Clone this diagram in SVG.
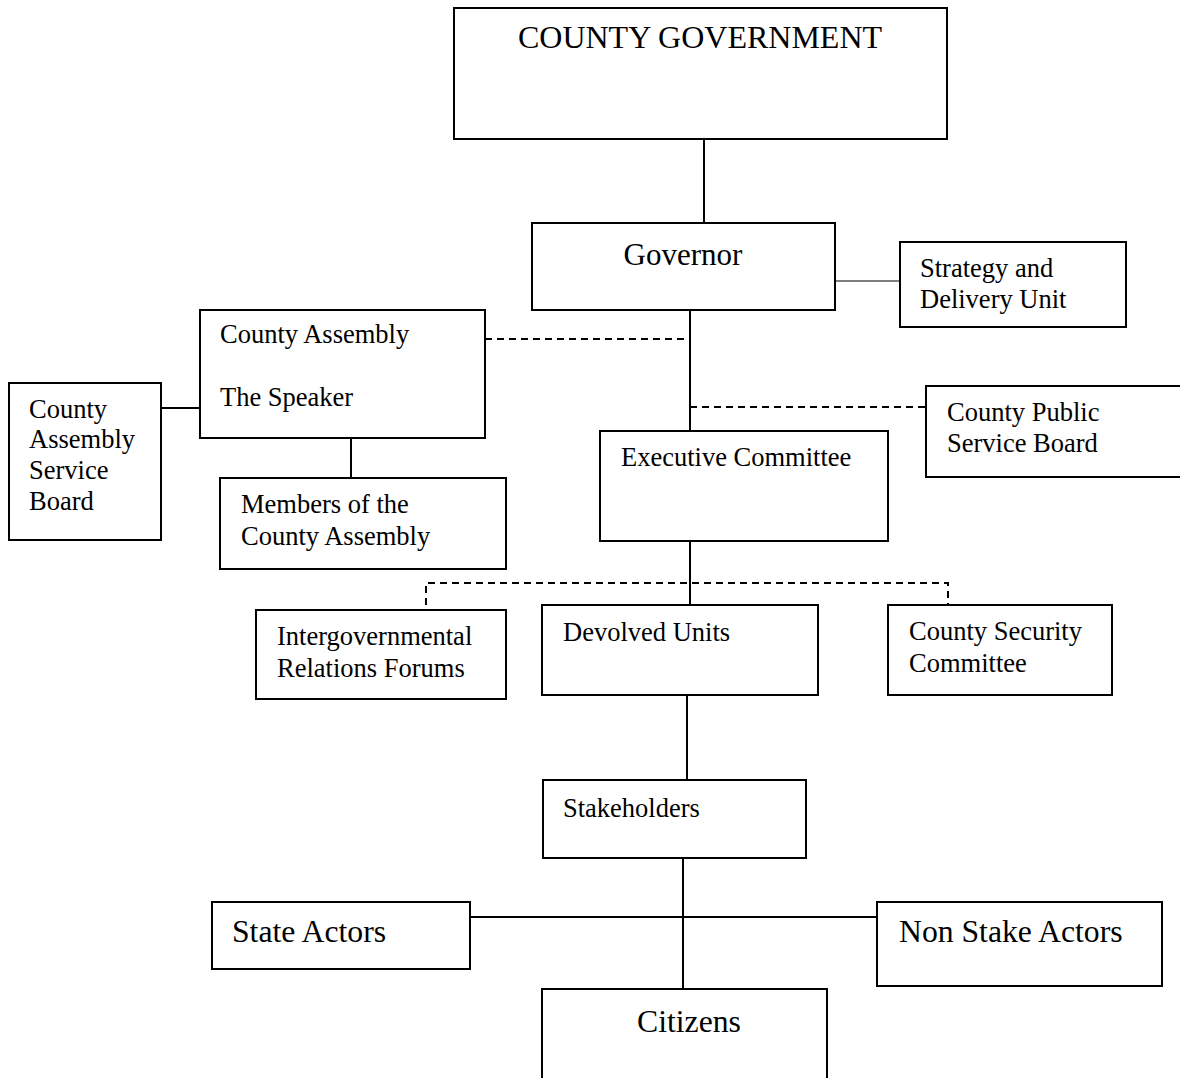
<svg xmlns="http://www.w3.org/2000/svg" width="1180" height="1078" viewBox="0 0 1180 1078">
<style>
  .box { fill: #fff; stroke: #000; stroke-width: 2; }
  .t { font-family: "Liberation Serif", "Times New Roman", serif; font-size: 26.5px; fill: #000; }
  .tl { font-family: "Liberation Serif", "Times New Roman", serif; font-size: 31.7px; fill: #000; }
  .ln { stroke: #000; stroke-width: 2; fill: none; }
  .thin { stroke: #000; stroke-width: 1.2; fill: none; }
  .dash { stroke: #000; stroke-width: 2; fill: none; stroke-dasharray: 7 5; }
</style>
<rect width="1180" height="1078" fill="#fff"/>
<g id="connectors">
  <line class="ln" x1="704" y1="139" x2="704" y2="223"/>
  <line class="thin" x1="835" y1="281" x2="900" y2="281"/>
  <line class="ln" x1="690" y1="310" x2="690" y2="431"/>
  <line class="dash" x1="485" y1="339" x2="690" y2="339"/>
  <line class="dash" x1="690" y1="407" x2="926" y2="407"/>
  <line class="ln" x1="161" y1="408" x2="200" y2="408"/>
  <line class="ln" x1="351" y1="438" x2="351" y2="478"/>
  <line class="ln" x1="690" y1="541" x2="690" y2="605"/>
  <path class="dash" d="M426 605 V583 H948 V605"/>
  <line class="ln" x1="687" y1="695" x2="687" y2="780"/>
  <line class="ln" x1="683" y1="858" x2="683" y2="989"/>
  <line class="ln" x1="470" y1="917" x2="877" y2="917"/>
</g>
<g id="county-government">
  <rect class="box" x="454" y="8" width="493" height="131"/>
  <text class="t" x="700" y="48" text-anchor="middle" style="font-size:32px">COUNTY GOVERNMENT</text>
</g>
<g id="governor">
  <rect class="box" x="532" y="223" width="303" height="87"/>
  <text class="tl" x="683" y="265" text-anchor="middle" style="font-size:31px">Governor</text>
</g>
<g id="strategy">
  <rect class="box" x="900" y="242" width="226" height="85"/>
  <text class="t" x="920" y="277">Strategy and</text>
  <text class="t" x="920" y="308">Delivery Unit</text>
</g>
<g id="county-assembly">
  <rect class="box" x="200" y="310" width="285" height="128"/>
  <text class="t" x="220" y="343">County Assembly</text>
  <text class="t" x="220" y="406">The Speaker</text>
</g>
<g id="ca-service-board">
  <rect class="box" x="9" y="383" width="152" height="157"/>
  <text class="t" x="29" y="418">County</text>
  <text class="t" x="29" y="448">Assembly</text>
  <text class="t" x="29" y="479">Service</text>
  <text class="t" x="29" y="510">Board</text>
</g>
<g id="members">
  <rect class="box" x="220" y="478" width="286" height="91"/>
  <text class="t" x="241" y="513">Members of the</text>
  <text class="t" x="241" y="545">County Assembly</text>
</g>
<g id="public-service-board">
  <rect class="box" x="926" y="386" width="260" height="91"/>
  <text class="t" x="947" y="421">County Public</text>
  <text class="t" x="947" y="452">Service Board</text>
</g>
<g id="executive-committee">
  <rect class="box" x="600" y="431" width="288" height="110"/>
  <text class="t" x="621" y="466">Executive Committee</text>
</g>
<g id="intergovernmental">
  <rect class="box" x="256" y="610" width="250" height="89"/>
  <text class="t" x="277" y="645">Intergovernmental</text>
  <text class="t" x="277" y="677">Relations Forums</text>
</g>
<g id="devolved-units">
  <rect class="box" x="542" y="605" width="276" height="90"/>
  <text class="t" x="563" y="641">Devolved Units</text>
</g>
<g id="security-committee">
  <rect class="box" x="888" y="605" width="224" height="90"/>
  <text class="t" x="909" y="640">County Security</text>
  <text class="t" x="909" y="672">Committee</text>
</g>
<g id="stakeholders">
  <rect class="box" x="543" y="780" width="263" height="78"/>
  <text class="t" x="563" y="817">Stakeholders</text>
</g>
<g id="state-actors">
  <rect class="box" x="212" y="902" width="258" height="67"/>
  <text class="tl" x="232" y="942">State Actors</text>
</g>
<g id="non-state-actors">
  <rect class="box" x="877" y="902" width="285" height="84"/>
  <text class="tl" x="899" y="942">Non Stake Actors</text>
</g>
<g id="citizens">
  <rect class="box" x="542" y="989" width="285" height="100"/>
  <text class="tl" x="689" y="1032" text-anchor="middle">Citizens</text>
</g>
</svg>
